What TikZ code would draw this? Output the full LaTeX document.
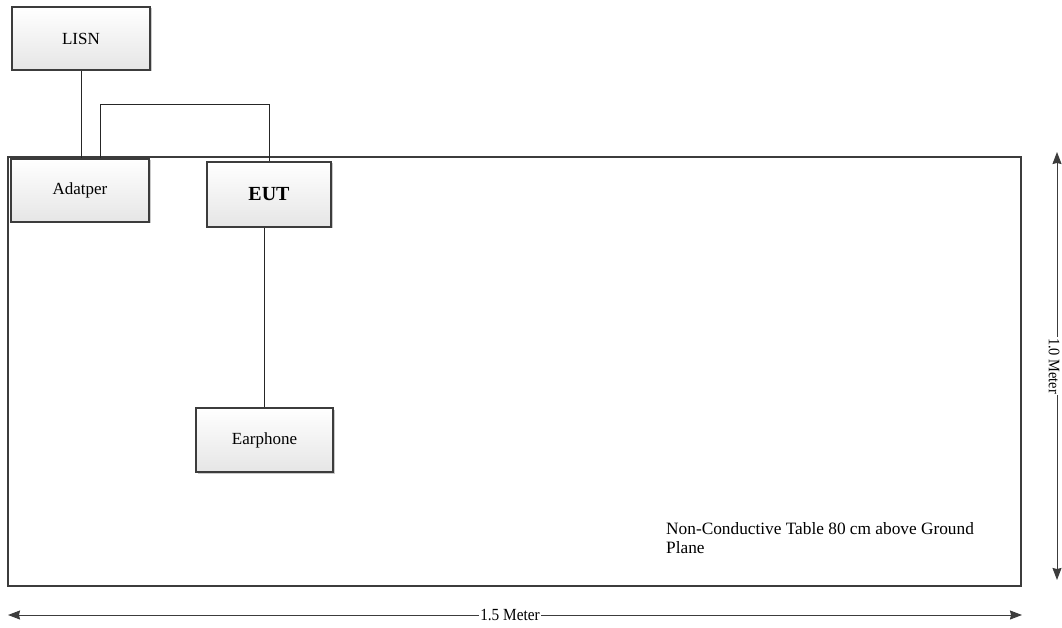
\documentclass[tikz,border=0pt]{standalone}
\usepackage{fontspec}
\setmainfont{Liberation Serif}
\usetikzlibrary{shadows,arrows.meta,calc}
\definecolor{edge}{HTML}{3C3C3C}
\tikzset{
  box/.style={draw=edge, line width=1.2pt, top color=white, bottom color=black!10,
    drop shadow={shadow xshift=1.5pt, shadow yshift=-1.5pt, opacity=0.35, fill=black!60},
    minimum width=#1, inner sep=0pt, font=\fontsize{17}{19}\selectfont},
  box/.default=138pt,
  wire/.style={draw=black!85, line width=0.8pt},
  dim/.style={draw=edge, line width=1pt, {Stealth[length=12pt,width=9pt,inset=1pt]}-{Stealth[length=12pt,width=9pt,inset=1pt]}},
  lbl/.style={fill=white, inner sep=1pt, font=\fontsize{17}{19}\selectfont},
}
\begin{document}
\begin{tikzpicture}[x=1pt,y=-1pt]
\useasboundingbox (0,0) rectangle (1062,628);
% table
\draw[draw=edge, line width=1.8pt] (8,157) rectangle (1021,586);
% boxes
\node[box=138pt, minimum height=63pt] (lisn) at (81,38.5) {LISN};
\node[box=138pt, minimum height=63pt] (adp) at (80,190.5) {Adatper};
\node[box=124pt, minimum height=65pt, font=\fontsize{20}{22}\selectfont\bfseries] (eut) at (269,194.5) {EUT};
\node[box=137pt, minimum height=64pt] (ear) at (264.5,440) {Earphone};
% wires
\draw[wire] (lisn.south) -- (lisn.south |- adp.north);
\coordinate (a1) at ([xshift=20pt]adp.north);
\coordinate (t1) at (100,104);
\draw[wire] (a1) -- (a1 |- t1) -| (eut.north);
\draw[wire] (ear.north) -- (ear.north |- eut.south);
% text
\node[anchor=north west, align=left, inner sep=0pt, font=\fontsize{17.3}{19}\selectfont] (note) at (666,522)
  {Non-Conductive Table 80 cm above Ground\\Plane};
% dimensions
\coordinate (h1) at (8,615);
\coordinate (h2) at (1022,615);
\draw[dim] (h1) -- (h2);
\node[lbl] (hl) at (510,615) {\scalebox{0.9}[1]{1.5 Meter}};
\coordinate (v1) at (1057,152);
\coordinate (v2) at (1057,580);
\draw[dim] (v1) -- (v2);
\node[lbl, rotate=-90, font=\fontsize{16}{18}\selectfont] (vl) at ($(v1)!0.5!(v2)+(-3,0)$) {\scalebox{0.9}[1]{1.0 Meter}};
\end{tikzpicture}
\end{document}
